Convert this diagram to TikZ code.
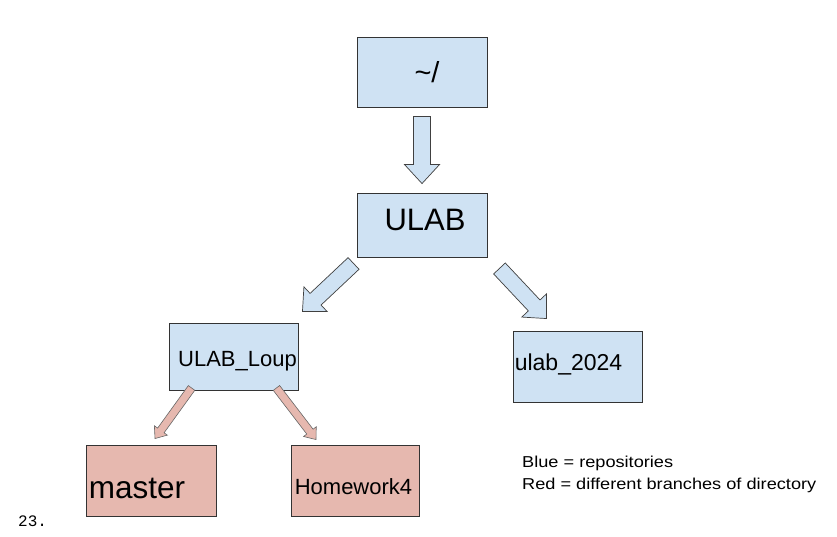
\documentclass[tikz,border=0pt]{standalone}
\usepackage{fontspec}
\setmainfont{Liberation Sans}
\setmonofont{Liberation Mono}
\newfontfamily\legendfont{Liberation Sans}[FakeStretch=1.15]
\usetikzlibrary{calc}
\definecolor{repoblue}{HTML}{CFE2F3}
\definecolor{branchred}{HTML}{E6B8AF}
\newcommand{\blockarrow}[6]{%
  \coordinate (neck) at ($(#3)!#6!(#2)$);
  \draw[#1] ($(#2)!#4!90:(#3)$) -- ($(neck)!#4!-90:(#2)$) -- ($(neck)!#5!-90:(#2)$)
    -- (#3) -- ($(neck)!#5!90:(#2)$) -- ($(neck)!#4!90:(#2)$) -- ($(#2)!#4!-90:(#3)$) -- cycle;}

\begin{document}
\begin{tikzpicture}[x=1pt,y=-1pt,
    box/.style={draw=black!80,line width=0.9pt,minimum width=130pt,minimum height=70pt,inner sep=0pt},
    repo/.style={box,fill=repoblue},
    branch/.style={box,fill=branchred},
    bigarrow/.style={draw=black!75,line width=0.7pt,fill=repoblue},
    smallarrow/.style={draw=black!60,line width=0.6pt,fill=branchred}]
  \useasboundingbox (0,0) rectangle (837,536);
  \node[repo,label={[font=\fontsize{29}{30}\selectfont,xshift=5pt]center:\textasciitilde/}] (home) at (422,72) {};
  \node[repo,minimum height=64pt,label={[font=\fontsize{31}{32}\selectfont,xshift=3pt,yshift=5pt]center:ULAB}] (ulab) at (422,225) {};
  \node[repo,minimum width=129pt,minimum height=67pt,label={[font=\fontsize{22}{24}\selectfont,xshift=4pt,yshift=-4.5pt]center:ULAB\_Loup}] (loup) at (233.5,356.5) {};
  \node[repo,minimum width=129pt,minimum height=71pt,label={[font=\fontsize{23}{25}\selectfont,xshift=-9pt,yshift=2.5pt]center:ulab\_2024}] (u24) at (577.5,366.5) {};
  \node[branch,minimum height=71pt,label={[font=\fontsize{31.5}{33}\selectfont,xshift=-14pt,yshift=-7.5pt]center:master}] (master) at (151,480.5) {};
  \node[branch,minimum width=128pt,minimum height=71pt,label={[font=\fontsize{22}{24}\selectfont,xshift=-1.5pt,yshift=-6.5pt]center:Homework4}] (hw) at (355,480.5) {};
  \node[anchor=west,align=left,inner sep=0pt,font=\legendfont\fontsize{15.8}{22}\selectfont] (key) at (522,474) {Blue = repositories\\Red = different branches of directory};
  \node[anchor=west,inner sep=0pt,font=\ttfamily\fontsize{16}{18}\selectfont] (page) at (18,521) {23.};

  \coordinate (t1) at ($(home.south)+(0,9)$);
  \coordinate (h1) at ($(ulab.north)+(0,-9)$);
  \coordinate (t2) at ($(ulab.south west)+(-3,6)$);
  \coordinate (h2) at ($(loup.north east)+(4,-11)$);
  \coordinate (t3) at ($(ulab.south east)+(12,11)$);
  \coordinate (h3) at ($(u24.north)+(-31,-12)$);
  \coordinate (t4) at ($(loup.south west)+(23,-2.5)$);
  \coordinate (h4) at ($(master.north)+(4,-6)$);
  \coordinate (t5) at ($(loup.south east)+(-22,-2.5)$);
  \coordinate (h5) at ($(hw.north)+(-39,-5)$);
  \blockarrow{bigarrow}{t1}{h1}{8.5pt}{17.5pt}{19pt}
  \blockarrow{bigarrow}{t2}{h2}{8pt}{17pt}{18pt}
  \blockarrow{bigarrow}{t3}{h3}{8pt}{17pt}{18pt}
  \blockarrow{smallarrow}{t4}{h4}{4pt}{8pt}{10pt}
  \blockarrow{smallarrow}{t5}{h5}{4pt}{8pt}{10pt}
\end{tikzpicture}
\end{document}
